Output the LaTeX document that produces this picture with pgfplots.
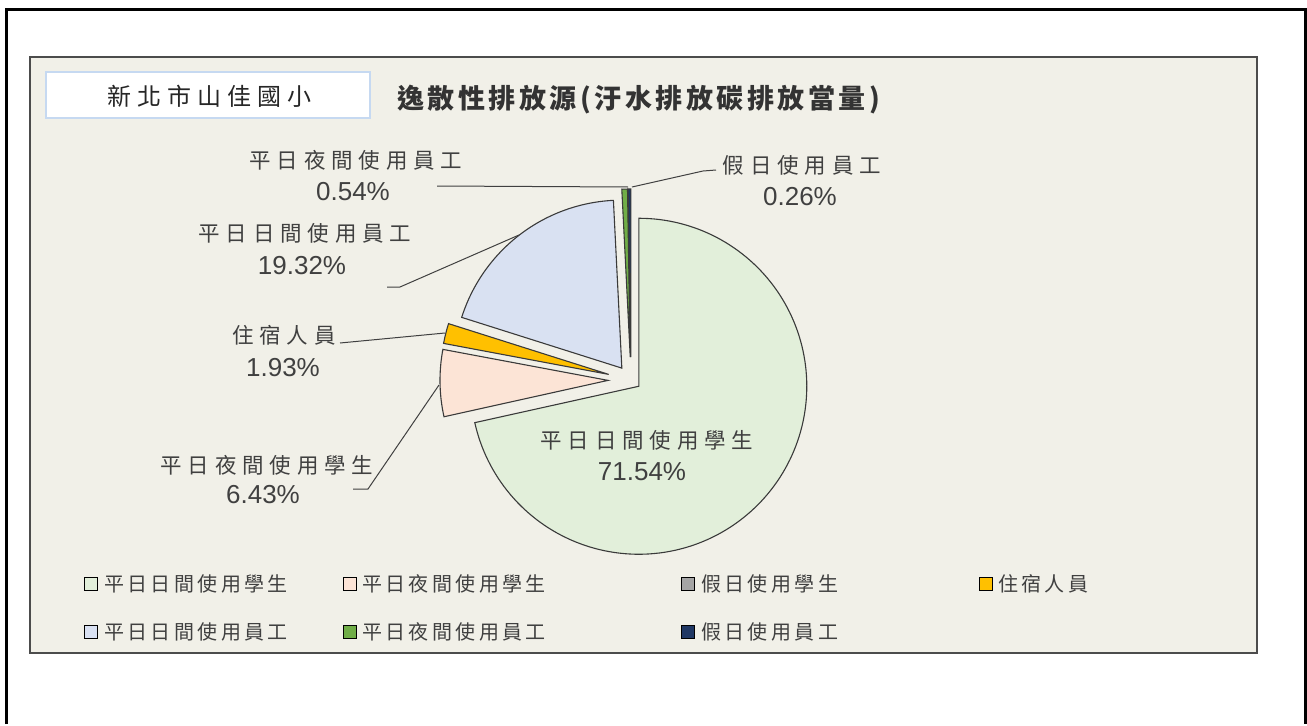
\documentclass[border=0pt]{standalone}
\usepackage{pgfplots}
\pgfplotsset{compat=1.18}
\usepackage{pgfplotstable}
\usepackage{fontspec}
\setmainfont{Liberation Sans}
\newfontfamily\cjklab{Noto Sans CJK TC}[LetterSpace=27]
\newfontfamily\cjkleg{Noto Sans CJK TC}[LetterSpace=17]
\newfontfamily\cjkbox{Noto Sans CJK TC}[LetterSpace=25]
\newfontfamily\cjktitle{Noto Sans CJK TC}[LetterSpace=13]

\definecolor{bg}{HTML}{F1F0E8}
\definecolor{edgec}{HTML}{3A3A3A}
\definecolor{cA}{HTML}{E2EFDA}
\definecolor{cB}{HTML}{FCE4D6}
\definecolor{cC}{HTML}{A5A5A5}
\definecolor{cD}{HTML}{FFC000}
\definecolor{cE}{HTML}{D9E1F2}
\definecolor{cF}{HTML}{70AD47}
\definecolor{cG}{HTML}{203864}
\definecolor{txt}{HTML}{404040}
\definecolor{boxb}{HTML}{C6D9F1}

% slice values (percent) and explosion offsets (px)
\pgfplotstableread{
idx value explode
0 71.54 10
1 6.43 23
2 0.00 0
3 1.93 23
4 19.32 15
5 0.54 23
6 0.26 23
}\piedata

\newcommand\getval[3]{\pgfplotstablegetelem{#1}{#2}\of\piedata\let#3\pgfplotsretval}

\newcommand\pieslice[4]{% start, end, explode, colour
  \pgfmathsetmacro\pmid{(#1+#2)/2}%
  \pgfmathsetmacro\apx{\cx+#3*sin(\pmid)}%
  \pgfmathsetmacro\apy{\cy-#3*cos(\pmid)}%
  \edef\temp{\noexpand\addplot[draw=edgec, line width=1.1pt, line join=miter, fill=#4, domain=#1:#2, samples=150, mark=none] ({\apx+\pr*sin(x)}, {\apy-\pr*cos(x)}) -- (axis cs:\apx,\apy) -- cycle;}%
  \temp
}

\newcommand\labfont{\cjklab\fontsize{21.5}{25}\selectfont\color{txt}}
\newcommand\pctfont{\fontsize{26}{30}\selectfont\color{txt}}
\newcommand\legfont{\cjkleg\fontsize{20}{24}\selectfont\color{txt}}

\begin{document}
\begin{tikzpicture}
\getval{0}{value}\vA \getval{1}{value}\vB \getval{2}{value}\vC
\getval{3}{value}\vD \getval{4}{value}\vE \getval{5}{value}\vF
\getval{6}{value}\vG
\getval{0}{explode}\eA \getval{1}{explode}\eB \getval{3}{explode}\eD
\getval{4}{explode}\eE \getval{5}{explode}\eF \getval{6}{explode}\eG
\pgfmathsetmacro\tot{\vA+\vB+\vC+\vD+\vE+\vF+\vG}
\pgfmathsetmacro\aA{\vA/\tot*360}
\pgfmathsetmacro\aB{\aA+\vB/\tot*360}
\pgfmathsetmacro\aC{\aB+\vC/\tot*360}
\pgfmathsetmacro\aD{\aC+\vD/\tot*360}
\pgfmathsetmacro\aE{\aD+\vE/\tot*360}
\pgfmathsetmacro\aF{\aE+\vF/\tot*360}
\pgfmathsetmacro\aG{\aF+\vG/\tot*360}
\def\cx{631}\def\cy{380}\def\pr{168}
\begin{axis}[
  width=1307pt, height=724pt, scale only axis,
  xmin=0, xmax=1307, ymin=0, ymax=724, y dir=reverse,
  hide axis, clip=false, anchor=south west, at={(0,0)}]
% backgrounds
\fill[white] (axis cs:0,0) rectangle (axis cs:1307,724);
\draw[black, line width=3pt] (axis cs:6,724) -- (axis cs:6,9) -- (axis cs:1305,9) -- (axis cs:1305,724);
\draw[black!70, fill=bg, line width=1.3pt] (axis cs:30,57) rectangle (axis cs:1257,653);
\draw[boxb, fill=white, line width=2.5pt] (axis cs:46,72) rectangle (axis cs:370,118);
\node[inner sep=0pt] at (axis cs:209,96) {\cjkbox\fontsize{24}{28}\selectfont\color{black!85}新北市山佳國小};
\node[inner sep=0pt, anchor=west] at (axis cs:397,100) {\cjktitle\bfseries\fontsize{27}{31}\selectfont\color{black!80}逸散性排放源(汙水排放碳排放當量)};
% pie slices
\pieslice{0}{\aA}{\eA}{cA}
\pieslice{\aA}{\aB}{\eB}{cB}
\pieslice{\aC}{\aD}{\eD}{cD}
\pieslice{\aD}{\aE}{\eE}{cE}
\pieslice{\aE}{\aF}{\eF}{cF}
\pieslice{\aF}{\aG}{\eG}{cG}
% leader lines
\draw[txt, line width=1pt] (axis cs:437,186) -- (axis cs:628,187);
\draw[txt, line width=1pt] (axis cs:632,187) -- (axis cs:703,171) -- (axis cs:716,170);
\draw[txt, line width=1pt] (axis cs:387,287) -- (axis cs:400,287) -- (axis cs:519,235);
\draw[txt, line width=1pt] (axis cs:340,343) -- (axis cs:445,333);
\draw[txt, line width=1pt] (axis cs:353,489) -- (axis cs:368,489) -- (axis cs:439,385);
% data labels
\node[inner sep=0pt] at (axis cs:356,160) {\labfont 平日夜間使用員工};
\node[inner sep=0pt] at (axis cs:353,192) {\pctfont 0.54\%};
\node[inner sep=0pt] at (axis cs:305,233) {\labfont 平日日間使用員工};
\node[inner sep=0pt] at (axis cs:302,266) {\pctfont 19.32\%};
\node[inner sep=0pt] at (axis cs:284,335) {\labfont 住宿人員};
\node[inner sep=0pt] at (axis cs:283,368) {\pctfont 1.93\%};
\node[inner sep=0pt] at (axis cs:267,465) {\labfont 平日夜間使用學生};
\node[inner sep=0pt] at (axis cs:263,495) {\pctfont 6.43\%};
\node[inner sep=0pt] at (axis cs:802,165) {\labfont 假日使用員工};
\node[inner sep=0pt] at (axis cs:800,197) {\pctfont 0.26\%};
\node[inner sep=0pt] at (axis cs:647,440) {\labfont 平日日間使用學生};
\node[inner sep=0pt] at (axis cs:642,472) {\pctfont 71.54\%};
% legend
\draw[black, fill=cA, line width=1pt] (axis cs:84,577.5) rectangle (axis cs:97,590.5);
\node[inner sep=0pt, anchor=west] at (axis cs:104,584) {\legfont 平日日間使用學生};
\draw[black, fill=cB, line width=1pt] (axis cs:343,577.5) rectangle (axis cs:356,590.5);
\node[inner sep=0pt, anchor=west] at (axis cs:362,584) {\legfont 平日夜間使用學生};
\draw[black, fill=cC, line width=1pt] (axis cs:681,577.5) rectangle (axis cs:694,590.5);
\node[inner sep=0pt, anchor=west] at (axis cs:701,584) {\legfont 假日使用學生};
\draw[black, fill=cD, line width=1pt] (axis cs:979,577.5) rectangle (axis cs:992,590.5);
\node[inner sep=0pt, anchor=west] at (axis cs:998,584) {\legfont 住宿人員};
\draw[black, fill=cE, line width=1pt] (axis cs:84,625.5) rectangle (axis cs:97,638.5);
\node[inner sep=0pt, anchor=west] at (axis cs:104,632) {\legfont 平日日間使用員工};
\draw[black, fill=cF, line width=1pt] (axis cs:343,625.5) rectangle (axis cs:356,638.5);
\node[inner sep=0pt, anchor=west] at (axis cs:362,632) {\legfont 平日夜間使用員工};
\draw[black, fill=cG, line width=1pt] (axis cs:681,625.5) rectangle (axis cs:694,638.5);
\node[inner sep=0pt, anchor=west] at (axis cs:701,632) {\legfont 假日使用員工};
\end{axis}
\end{tikzpicture}
\end{document}
